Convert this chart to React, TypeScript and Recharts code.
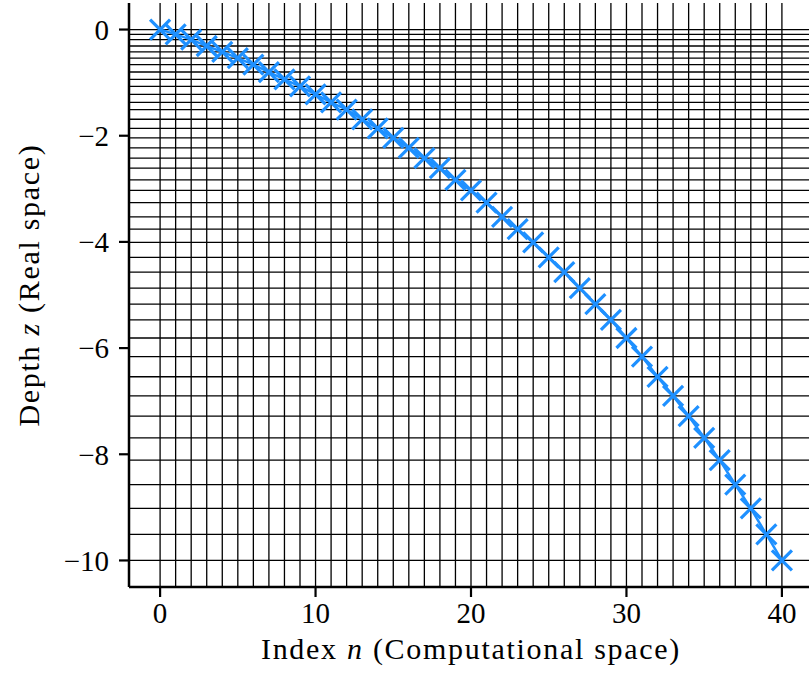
import { LineChart, Line, CartesianGrid, XAxis, YAxis, Label } from "recharts";

// index n (computational space)
const indexN = [
  0, 1, 2, 3, 4, 5, 6, 7, 8, 9, 10, 11, 12, 13, 14, 15, 16, 17, 18, 19, 20,
  21, 22, 23, 24, 25, 26, 27, 28, 29, 30, 31, 32, 33, 34, 35, 36, 37, 38, 39, 40,
];

const depthZ = [
  0, -0.09, -0.19, -0.31, -0.42, -0.54, -0.66, -0.8, -0.94, -1.07, -1.22,
  -1.37, -1.51, -1.69, -1.86, -2.04, -2.23, -2.42, -2.61, -2.83, -3.03,
  -3.26, -3.53, -3.76, -4.01, -4.29, -4.57, -4.87, -5.17, -5.47, -5.81,
  -6.16, -6.54, -6.9, -7.28, -7.69, -8.11, -8.57, -9.02, -9.51, -10,
];

const xTicks = [0, 10, 20, 30, 40];
const yTicks = [0, -2, -4, -6, -8, -10];

const data = indexN.map((n, i) => ({ n, z: depthZ[i] }));

const BLUE = "#1E90FF";
const FONT = "Liberation Serif, DejaVu Serif, serif";

const fmt = (v: number) => (v < 0 ? "\u2212" + Math.abs(v) : String(v));

const Cross = (props: any) => {
  const { cx, cy, index } = props;
  if (cx == null || cy == null) return null;
  const s = 10;
  return (
    <path
      key={"m" + index}
      d={`M${cx - s},${cy - s}L${cx + s},${cy + s}M${cx - s},${cy + s}L${cx + s},${cy - s}`}
      stroke={BLUE}
      strokeWidth={3.2}
      fill="none"
    />
  );
};

export default function App() {
  return (
    <div
      style={{
        position: "fixed",
        left: 0,
        top: 0,
        width: 809,
        height: 682,
        overflow: "hidden",
        background: "#fff",
        fontFamily: FONT,
      }}
    >
      <LineChart
        width={830}
        height={682}
        data={data}
        margin={{ top: 3, right: 17, bottom: 0, left: 0 }}
      >
        <CartesianGrid
          horizontalValues={depthZ}
          verticalValues={indexN}
          stroke="#000"
          strokeWidth={1.3}
        />
        <XAxis
          dataKey="n"
          type="number"
          domain={[-2, 42]}
          allowDataOverflow
          ticks={xTicks}
          interval={0}
          tickFormatter={fmt}
          height={95}
          tickSize={10}
          tickMargin={5}
          axisLine={{ stroke: "#000", strokeWidth: 2.5 }}
          tickLine={{ stroke: "#000", strokeWidth: 2.2 }}
          tick={{ fill: "#000", fontSize: 29, fontFamily: FONT }}
        >
          <Label
            content={(p: any) => {
              const vb = p.viewBox || {};
              return (
                <text
                  x={vb.x + vb.width / 2}
                  y={659}
                  textAnchor="middle"
                  fontSize={30}
                  fontFamily={FONT}
                  letterSpacing={1.7}
                  fill="#000"
                >
                  Index <tspan fontStyle="italic">n</tspan> (Computational space)
                </text>
              );
            }}
          />
        </XAxis>
        <XAxis
          xAxisId="top"
          orientation="top"
          type="number"
          domain={[-2, 42]}
          height={0}
          tick={false}
          tickLine={false}
          axisLine={{ stroke: "#000", strokeWidth: 2.5 }}
        />
        <YAxis
          type="number"
          domain={[-10.5, 0.5]}
          allowDataOverflow
          ticks={yTicks}
          interval={0}
          tickFormatter={fmt}
          width={129}
          tickSize={10}
          tickMargin={10}
          axisLine={{ stroke: "#000", strokeWidth: 2.5 }}
          tickLine={{ stroke: "#000", strokeWidth: 2.2 }}
          tick={{ fill: "#000", fontSize: 29, fontFamily: FONT }}
        >
          <Label
            content={(p: any) => {
              const vb = p.viewBox || {};
              const cy = vb.y + vb.height / 2 - 10;
              return (
                <text
                  x={39}
                  y={cy}
                  transform={`rotate(-90, 39, ${cy})`}
                  textAnchor="middle"
                  fontSize={30}
                  fontFamily={FONT}
                  letterSpacing={1.7}
                  fill="#000"
                >
                  Depth <tspan fontStyle="italic">z</tspan> (Real space)
                </text>
              );
            }}
          />
        </YAxis>
        <Line
          type="linear"
          dataKey="z"
          stroke={BLUE}
          strokeWidth={2.5}
          dot={Cross}
          activeDot={false}
          isAnimationActive={false}
        />
      </LineChart>
    </div>
  );
}
